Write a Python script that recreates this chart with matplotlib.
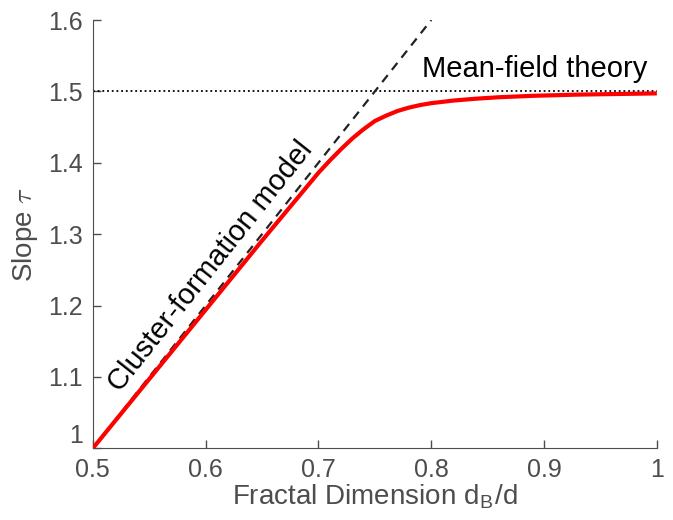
import numpy as np
import matplotlib.pyplot as plt

# values
x_red = [0.50, 0.55, 0.60, 0.65, 0.68, 0.70, 0.71, 0.72, 0.73, 0.74, 0.75, 0.76, 0.77,
         0.78, 0.79, 0.80, 0.82, 0.84, 0.86, 0.89, 0.93, 1.00]
y_red = [1.000, 1.097, 1.194, 1.291, 1.348, 1.386, 1.403, 1.419, 1.434, 1.447, 1.4585, 1.466, 1.4725,
         1.4772, 1.4808, 1.4835, 1.4872, 1.4898, 1.4918, 1.4938, 1.4955, 1.4972]
x_dash = [0.5, 0.8]
y_dash = [1.0, 1.6]
mean_field = 1.5
xticks = [0.5, 0.6, 0.7, 0.8, 0.9, 1.0]
xlabels = ['0.5', '0.6', '0.7', '0.8', '0.9', '1']
yticks = [1.0, 1.1, 1.2, 1.3, 1.4, 1.5, 1.6]
ylabels = ['1', '1.1', '1.2', '1.3', '1.4', '1.5', '1.6']

plt.rcParams['font.family'] = ['Liberation Sans', 'DejaVu Sans']
plt.rcParams['mathtext.fontset'] = 'cm'
grey = '#4d4d4d'

fig = plt.figure(figsize=(6.73, 5.2), dpi=100)
ax = fig.add_axes([0.138, 0.138, 0.838, 0.8235])

ax.axhline(mean_field, color='black', linestyle=(0, (1, 1.6)), lw=1.3)
ax.plot(x_dash, y_dash, color='#222222', linestyle=(0, (4, 3)), lw=1.6)
ax.plot(x_red, y_red, color='red', lw=3, solid_capstyle='butt', zorder=5)

ax.text(0.7917, 1.52, 'Mean-field theory', fontsize=21, color='black')
ax.text(0.6046, 1.255, 'Cluster-formation model', fontsize=21, color='black',
        rotation=51.5, ha='center', va='center', rotation_mode='anchor')

ax.set_xlim(0.5, 1.0)
ax.set_ylim(1.0, 1.6)
ax.set_xticks(xticks)
ax.set_xticklabels(xlabels)
ax.set_yticks(yticks)
ax.set_yticklabels(ylabels)
ax.tick_params(direction='in', length=6, width=1, colors=grey, labelsize=18)
ax.tick_params(axis='y', pad=7)
ax.tick_params(axis='x', pad=7)
# lift the "1" label a bit so it does not touch "0.5"
ax.get_yticklabels()[0].set_va('bottom')
for s in ['top', 'right']:
    ax.spines[s].set_visible(False)
for s in ['left', 'bottom']:
    ax.spines[s].set_color(grey)

ax.set_xlabel('Fractal Dimension d$_\\mathregular{B}$/d', fontsize=20, color=grey, labelpad=0)
ax.set_ylabel('Slope $\\tau$', fontsize=20, color=grey, labelpad=6)

fig.savefig('out.png', dpi=100)
